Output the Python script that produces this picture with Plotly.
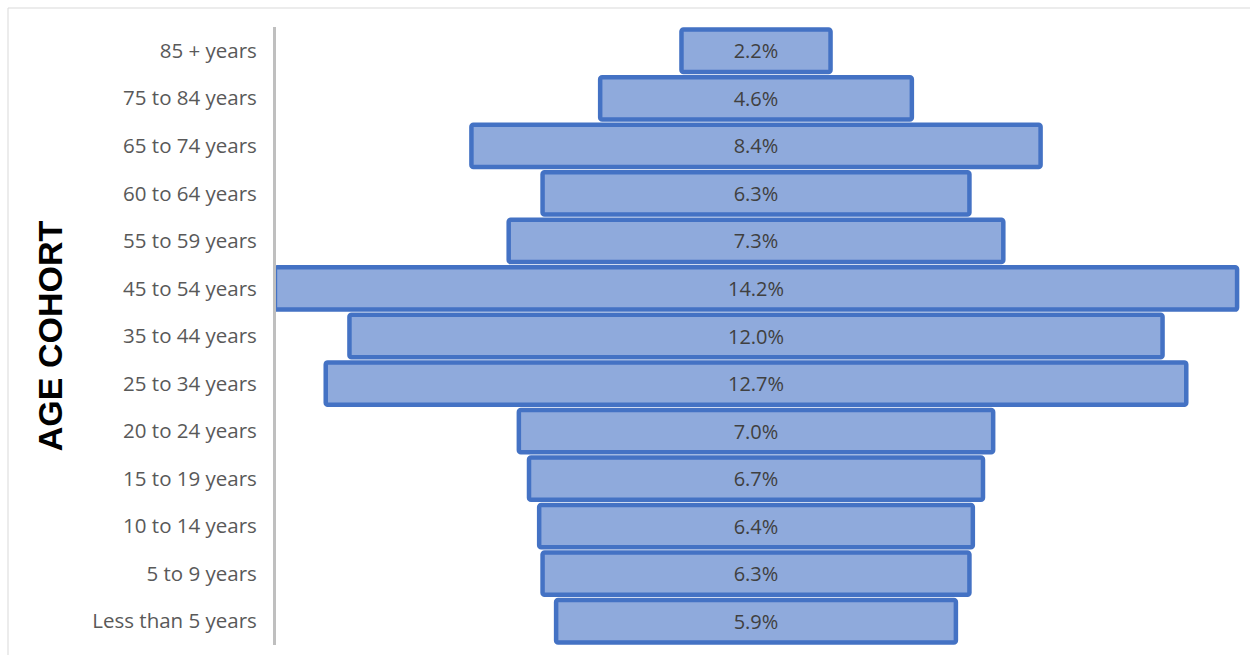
import plotly.graph_objects as go

categories = ["Less than 5 years", "5 to 9 years", "10 to 14 years", "15 to 19 years",
              "20 to 24 years", "25 to 34 years", "35 to 44 years", "45 to 54 years",
              "55 to 59 years", "60 to 64 years", "65 to 74 years", "75 to 84 years",
              "85 + years"]
shares = [5.9, 6.3, 6.4, 6.7, 7.0, 12.7, 12.0, 14.2, 7.3, 6.3, 8.4, 4.6, 2.2]
labels = [f"{v:.1f}%" for v in shares]

W, H = 1250, 655
ml, mr, mt, mb = 276, 10, 27, 10
pw, ph = W - ml - mr, H - mt - mb

fig = go.Figure(go.Bar(
    y=categories, x=shares, base=[-v / 2 for v in shares], orientation="h",
    text=labels, textposition="inside", insidetextanchor="middle", textangle=0,
    insidetextfont=dict(family="Open Sans", size=20, color="#404040"),
    marker=dict(color="#8FAADC", line=dict(color="#4472C4", width=4.5), cornerradius=2),
    hoverinfo="skip",
))

fig.update_layout(
    width=W, height=H, margin=dict(l=ml, r=mr, t=mt, b=mb),
    paper_bgcolor="white", plot_bgcolor="white", bargap=0.11, showlegend=False,
    xaxis=dict(range=[-7.084, 7.143], visible=False, fixedrange=True),
    yaxis=dict(categoryorder="array", categoryarray=categories, showgrid=False,
               showline=True, linecolor="#BFBFBF", linewidth=3, ticks="",
               ticklabelstandoff=12,
               tickfont=dict(family="Open Sans", size=20.5, color="#595959"),
               title=dict(text="<b>AGE COHORT</b>", standoff=20,
                          font=dict(family="Liberation Sans", size=34, color="black"))),
    shapes=[
        dict(type="line", xref="paper", yref="paper",
             x0=(8 - ml) / pw, x1=(W - ml) / pw, y0=(H - mb - 8) / ph, y1=(H - mb - 8) / ph,
             line=dict(color="#D9D9D9", width=1)),
        dict(type="line", xref="paper", yref="paper",
             x0=(8 - ml) / pw, x1=(8 - ml) / pw, y0=(H - mb - 8) / ph, y1=-mb / ph,
             line=dict(color="#D9D9D9", width=1)),
    ],
)

fig.write_html("out.html")
